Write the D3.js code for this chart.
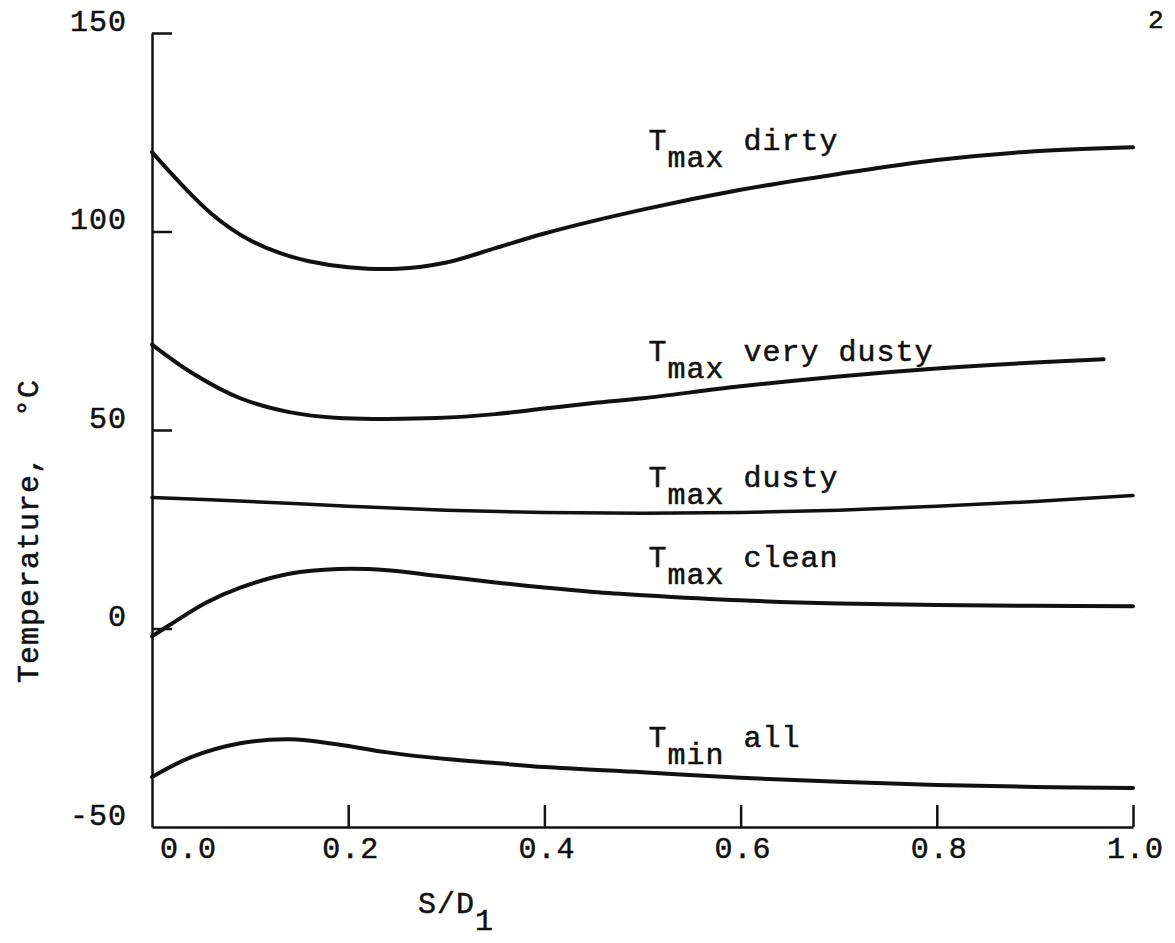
<!DOCTYPE html>
<html>
<head>
<meta charset="utf-8">
<script src="https://cdn.jsdelivr.net/npm/d3@7"></script>
<style>
  body { margin: 0; background: #fff; }
  svg { display: block; }
  text { font-family: "Liberation Mono", "DejaVu Sans Mono", monospace; font-size: 30px; letter-spacing: 1px; fill: #111; stroke: #111; stroke-width: 0.5px; white-space: pre; }
</style>
</head>
<body>
<svg id="chart" width="1175" height="943"></svg>
<script>
// x values (S/D1) and temperatures (°C)
const dirtyS = [0, 0.02, 0.04, 0.06, 0.08, 0.1, 0.13, 0.16, 0.2, 0.25, 0.3, 0.35, 0.4, 0.5, 0.6, 0.7, 0.8, 0.9, 1.0]
const dirtyT = [120, 114.5, 109.3, 104.6, 100.8, 97.8, 94.6, 92.5, 91, 90.6, 92.2, 95.8, 99.5, 105.5, 110.5, 114.5, 118, 120.2, 121.2]

const veryDustyS = [0, 0.04, 0.09, 0.14, 0.19, 0.24, 0.29, 0.35, 0.4, 0.45, 0.5, 0.6, 0.7, 0.8, 0.9, 0.97]
const veryDustyT = [71.5, 64.5, 58, 54.5, 53, 52.8, 53, 54, 55.4, 56.8, 58, 61, 63.5, 65.5, 67, 67.8]

const dustyS = [0, 0.1, 0.2, 0.3, 0.4, 0.5, 0.6, 0.7, 0.8, 0.9, 1.0]
const dustyT = [33, 32, 30.8, 29.8, 29.2, 29, 29.2, 29.8, 30.8, 32, 33.5]

const cleanS = [0, 0.02, 0.055, 0.09, 0.14, 0.19, 0.24, 0.29, 0.35, 0.4, 0.45, 0.5, 0.6, 0.7, 0.8, 0.9, 1.0]
const cleanT = [-2, 1.2, 6.5, 10.3, 13.8, 15, 14.7, 13.3, 11.6, 10.3, 9.2, 8.4, 7.1, 6.3, 5.9, 5.7, 5.6]

const minAllS = [0, 0.04, 0.09, 0.14, 0.19, 0.24, 0.3, 0.35, 0.4, 0.5, 0.6, 0.7, 0.8, 0.9, 1.0]
const minAllT = [-37.4, -32.4, -28.9, -27.9, -29.2, -31.2, -32.9, -33.9, -34.9, -36.2, -37.6, -38.6, -39.4, -39.9, -40.2]

// curve labels: subscript part and word, anchored in data units
const labelSub = ['max', 'max', 'max', 'max', 'min']
const labelWord = ['dirty', 'very dusty', 'dusty', 'clean', 'all']
const labelAtS = [0.506, 0.506, 0.506, 0.506, 0.506]
const labelAtT = [120.5, 67.3, 35.6, 15.5, -29.8]

const xTicks = [0, 0.2, 0.4, 0.6, 0.8, 1.0]
const xTickLabels = ['0.0', '0.2', '0.4', '0.6', '0.8', '1.0']
const yTicks = [-50, 0, 50, 100, 150]
const yTickLabels = ['-50', '0', '50', '100', '150']

function makeChart() {
  const svg = d3.select('#chart')

  const x = d3.scaleLinear().domain([0, 1]).range([152, 1133])
  const y = d3.scaleLinear().domain([-50, 150]).range([827, 33])

  const series = [
    { s: dirtyS, t: dirtyT, w: 4 },
    { s: veryDustyS, t: veryDustyT, w: 4 },
    { s: dustyS, t: dustyT, w: 3.5 },
    { s: cleanS, t: cleanT, w: 4 },
    { s: minAllS, t: minAllT, w: 4 },
  ]

  // axes: ticks point into the plot
  const yAxis = d3.axisRight(y)
    .tickValues(yTicks)
    .tickFormat((d, i) => yTickLabels[i])
    .tickSize(20)
    .tickSizeOuter(0)
  const gy = svg.append('g')
    .attr('transform', `translate(${x(0)},0)`)
    .call(yAxis)
  gy.select('.domain').attr('stroke', '#111').attr('stroke-width', 2.5)
  gy.selectAll('.tick line').attr('stroke', '#111').attr('stroke-width', 2.5)
  gy.selectAll('.tick').filter(d => d === -50).select('line').remove()
  gy.selectAll('.tick text')
    .attr('x', -25)
    .attr('dy', -3)
    .attr('text-anchor', 'end')
  gy.attr('font-size', null).attr('font-family', null)

  const xAxis = d3.axisTop(x)
    .tickValues(xTicks)
    .tickFormat((d, i) => xTickLabels[i])
    .tickSize(22)
    .tickSizeOuter(0)
  const gx = svg.append('g')
    .attr('transform', `translate(0,${y(-50)})`)
    .call(xAxis)
  gx.select('.domain').attr('stroke', '#111').attr('stroke-width', 2.5)
  gx.selectAll('.tick line').attr('stroke', '#111').attr('stroke-width', 2.5)
  gx.selectAll('.tick').filter(d => d === 0).select('line').remove()
  gx.selectAll('.tick text')
    .attr('y', 31)
    .attr('dy', 0)
    .attr('dx', (d, i) => i === 0 ? 36 : 2)
    .attr('text-anchor', 'middle')
  gx.attr('font-size', null).attr('font-family', null)

  // curves
  const line = d3.line()
    .x(d => x(d[0]))
    .y(d => y(d[1]))
    .curve(d3.curveCatmullRom.alpha(0.5))

  svg.append('g').selectAll('path')
    .data(series)
    .join('path')
    .attr('d', d => line(d3.zip(d.s, d.t)))
    .attr('fill', 'none')
    .attr('stroke', '#111')
    .attr('stroke-width', d => d.w)
    .attr('stroke-linecap', 'round')

  // curve labels: T with subscript, then the condition
  const labels = svg.append('g').selectAll('text')
    .data(labelWord)
    .join('text')
    .attr('x', (d, i) => x(labelAtS[i]))
    .attr('y', (d, i) => y(labelAtT[i]))
  labels.append('tspan').text('T')
  labels.append('tspan').attr('dy', 17).text((d, i) => labelSub[i])
  labels.append('tspan').attr('dy', -17).text(d => ' ' + d)

  // axis titles
  svg.append('text')
    .attr('transform', 'translate(38,683) rotate(-90)')
    .text('Temperature,  °C')

  const xTitle = svg.append('text')
    .attr('x', 418)
    .attr('y', 913)
  xTitle.append('tspan').text('S/D')
  xTitle.append('tspan').attr('dy', 17).text('1')

  // page number, at the top right corner of the scan
  svg.append('text')
    .attr('x', 1148)
    .attr('y', 28)
    .style('font-size', '26px')
    .text('2')
}

window.onload = makeChart
</script>
</body>
</html>
